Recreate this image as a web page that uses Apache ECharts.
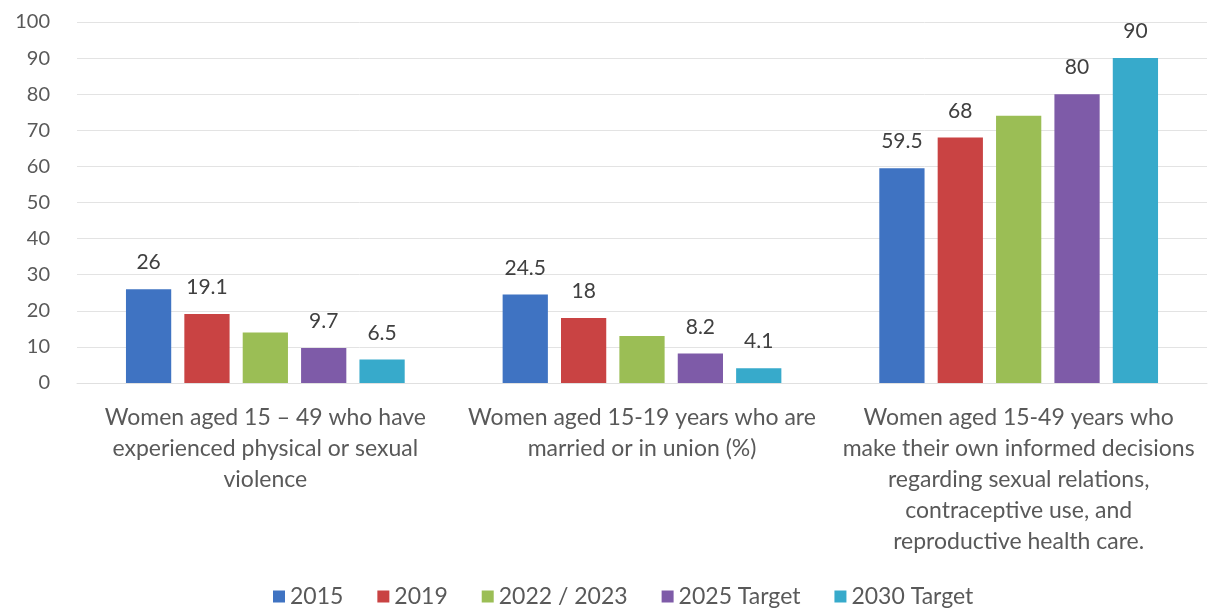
<!DOCTYPE html>
<html><head><meta charset="utf-8">
<script src="https://cdn.jsdelivr.net/npm/echarts@6/dist/echarts.min.js"></script>
<style>html,body{margin:0;padding:0;background:#fff}#c{width:1214px;height:610px}</style>
</head><body><div id="c"></div>
<script>
const categories = [
  "Women aged 15 – 49 who have\nexperienced physical or sexual\nviolence",
  "Women aged 15-19 years who are\nmarried or in union (%)",
  "Women aged 15-49 years who\nmake their own informed decisions\nregarding sexual relations,\ncontraceptive use, and\nreproductive health care."
];
const seriesNames = ["2015", "2019", "2022 / 2023", "2025 Target", "2030 Target"];
const v2015 = [26, 24.5, 59.5];
const v2019 = [19.1, 18, 68];
const v2022 = [14, 13, 74];
const v2025 = [9.7, 8.2, 80];
const v2030 = [6.5, 4.1, 90];
const showLabels = [true, true, false, true, true];
const colors = ["#3f73c2", "#c94343", "#9bbe55", "#7e5ba8", "#37aacb"];
const yTicks = { min: 0, max: 100, interval: 10 };

const values = [v2015, v2019, v2022, v2025, v2030];
const font = "Lato, 'Open Sans', sans-serif";
const chart = echarts.init(document.getElementById('c'), null, {renderer: 'canvas'});
chart.setOption({
  animation: false,
  color: colors,
  grid: { left: 77, right: 7, top: 22, bottom: 227, containLabel: false },
  legend: {
    top: 580, left: 268, itemWidth: 12, itemHeight: 12, itemGap: 34,
    icon: 'rect',
    textStyle: { color: '#595959', fontSize: 23, fontFamily: font }
  },
  xAxis: {
    type: 'category', data: categories,
    axisLine: { show: true, lineStyle: { color: '#e0e0e0' } },
    axisTick: { show: false },
    axisLabel: { color: '#595959', fontSize: 23, fontFamily: font, lineHeight: 31, margin: 19, interval: 0 }
  },
  yAxis: {
    type: 'value', min: yTicks.min, max: yTicks.max, interval: yTicks.interval,
    axisLine: { show: false }, axisTick: { show: false },
    splitLine: { lineStyle: { color: '#e3e3e3' } },
    axisLabel: { color: '#595959', fontSize: 20, fontFamily: font, margin: 27 }
  },
  series: seriesNames.map((n, i) => ({
    name: n, type: 'bar', data: values[i],
    barGap: '29%', barCategoryGap: '26%',
    label: { show: showLabels[i], position: 'top', distance: 16, color: '#404040', fontSize: 21, fontFamily: font }
  }))
});
</script></body></html>
